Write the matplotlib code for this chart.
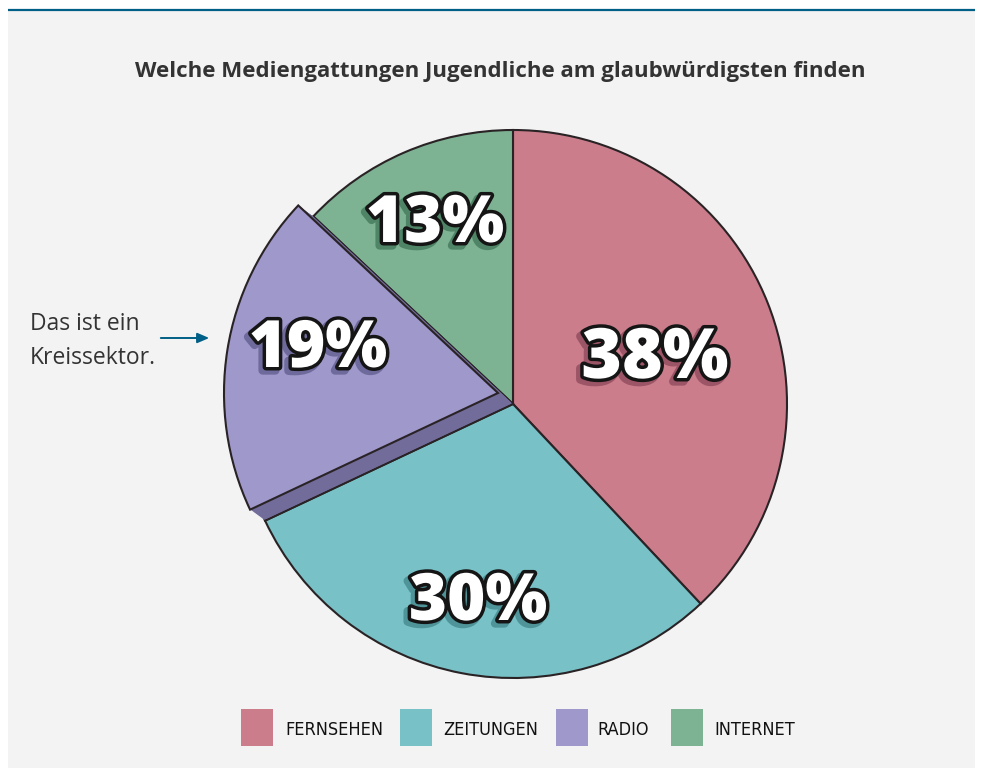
import numpy as np
import matplotlib
matplotlib.use("Agg")
import matplotlib.pyplot as plt
from matplotlib.patches import Wedge, Rectangle
import matplotlib.patheffects as pe

# ---- data ----
categories = ["Fernsehen", "Zeitungen", "Radio", "Internet"]
legend_labels = ["FERNSEHEN", "ZEITUNGEN", "RADIO", "INTERNET"]
values = [38, 30, 19, 13]
pct_labels = ["38%", "30%", "19%", "13%"]
colors = ["#cb7d8b", "#77c1c7", "#9f98cb", "#7db393"]
shadow_colors = ["#9c5566", "#4f9499", "#6f6a9c", "#4f8466"]
title = "Welche Mediengattungen Jugendliche am glaubwürdigsten finden"
note = "Das ist ein\nKreissektor."

W, H = 983, 771
fig = plt.figure(figsize=(W / 100, H / 100), dpi=100)
fig.patch.set_facecolor("white")
ax = fig.add_axes([0, 0, 1, 1])

def Y(y):
    return H - y

# panel
ax.add_patch(Rectangle((8, Y(768)), 967, 758, facecolor="#f3f3f3", edgecolor="none", zorder=0))
ax.plot([8, 975], [Y(10), Y(10)], color="#005f86", lw=1.6, zorder=1, solid_capstyle="butt")

cx, cy, r = 513, Y(404), 274
edge = "#2a2326"
wedges, _ = ax.pie(values, center=(cx, cy), radius=r, startangle=90,
                   counterclock=False, colors=colors, frame=True,
                   wedgeprops=dict(edgecolor=edge, linewidth=1.5))
for w in wedges:
    w.set_zorder(2)

# lifted radio slice with extrusion
radio = wedges[2]
off = np.array([-15.0, 11.0])
t1, t2 = radio.theta1, radio.theta2
base = Wedge((cx, cy), r, t1, t2, facecolor=shadow_colors[2], edgecolor=edge, lw=1.5, zorder=3)
ax.add_patch(base)
for t in np.linspace(0, 1, 16)[1:]:
    ax.add_patch(Wedge((cx + off[0] * t, cy + off[1] * t), r, t1, t2,
                       facecolor="#716c9a", edgecolor="none", zorder=4))
radio.set_center((cx + off[0], cy + off[1]))
radio.set_zorder(5)

# percentage labels (offsets in pixels from each wedge's centre; layout only)
label_offsets = [(142, 44), (-35, -199), (-180, 43), (-78, 179)]
for i, w in enumerate(wedges):
    c = np.array(w.center)
    x = c[0] + label_offsets[i][0]
    y = c[1] + label_offsets[i][1]
    fs = 50 if i == 0 else 47
    ax.text(x, y, pct_labels[i], ha="center", va="center", fontsize=fs,
            family="Open Sans", fontweight="heavy", color="white", zorder=10,
            path_effects=[pe.Stroke(linewidth=6, foreground=shadow_colors[i], offset=(-2.5, -2.5)),
                          pe.Stroke(linewidth=5, foreground="#151515"),
                          pe.Normal()])

# title
ax.text(500, Y(72), title, ha="center", va="center", fontsize=16,
        family="Open Sans", fontweight="bold", color="#333333", zorder=10)

# annotation
ax.text(30, Y(341), note, ha="left", va="center", fontsize=16.5, family="Open Sans",
        color="#333333", linespacing=1.6, zorder=10)
ax.annotate("", xy=(212, Y(338)), xytext=(158, Y(338)),
            arrowprops=dict(arrowstyle="-|>,head_length=0.7,head_width=0.3",
                            color="#005f86", lw=1.4), zorder=10)

# legend (manual)
sq_x = [241, 400, 556, 671]
txt_x = [285, 443, 597, 714]
for i in range(4):
    ax.add_patch(Rectangle((sq_x[i], Y(746)), 32, 37, facecolor=colors[i],
                           edgecolor="none", zorder=10))
    ax.text(txt_x[i], Y(730), legend_labels[i], ha="left", va="center",
            fontsize=13, family="DejaVu Sans", fontstretch="condensed",
            color="#111111", zorder=10)

ax.set_xlim(0, W)
ax.set_ylim(0, H)
ax.set_aspect("auto")
ax.axis("off")
fig.savefig("out.png", dpi=100, facecolor="white")
